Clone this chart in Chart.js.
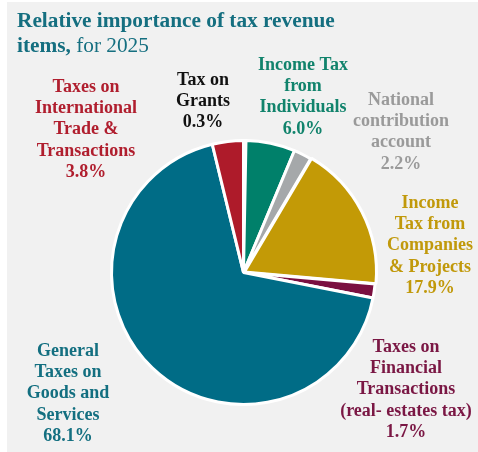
<!DOCTYPE html>
<html>
<head>
<meta charset="utf-8">
<script src="https://cdn.jsdelivr.net/npm/chart.js@4"></script>
<style>
  html, body { margin: 0; padding: 0; background: #ffffff; }
  #wrap { position: relative; width: 478px; height: 452px; }
  #warm { position: absolute; left: -999px; top: 0; font-family: "Liberation Serif"; }
</style>
</head>
<body>
<div id="wrap"><canvas id="myChart" width="478" height="452"></canvas></div>
<div id="warm"><b>Tax</b> for</div>
<script>
// data, clockwise from 12 o'clock
const categories = [
  ["Tax on", "Grants"],
  ["Income Tax", "from", "Individuals"],
  ["National", "contribution", "account"],
  ["Income", "Tax from", "Companies", "& Projects"],
  ["Taxes on", "Financial", "Transactions", "(real- estates tax)"],
  ["General", "Taxes on", "Goods and", "Services"],
  ["Taxes on", "International", "Trade &", "Transactions"]
];
const shares = [0.3, 6.0, 2.2, 17.9, 1.7, 68.1, 3.8];

const sliceColors = ["#000000", "#00806A", "#A5A8AA", "#C39A06", "#7A0F40", "#006C86", "#AE1B2A"];
const labelColors = ["#111111", "#11836C", "#9A9A9A", "#C1990B", "#7A1744", "#136F80", "#B01E2E"];
// label centre x and first line y (page px)
const labelPos = [[203, 80], [303, 65], [401, 100], [430, 203], [406, 347], [68, 351], [86, 87]];

const serif = '"Liberation Serif", "DejaVu Serif", serif';

const panelAndText = {
  id: "panelAndText",
  beforeDraw(chart) {
    const ctx = chart.ctx;
    ctx.save();
    ctx.fillStyle = "#F1F1F1";
    ctx.fillRect(7, 2, 471, 450);
    ctx.restore();
  },
  afterDraw(chart) {
    const ctx = chart.ctx;
    ctx.save();
    // title
    ctx.fillStyle = "#156F80";
    ctx.textBaseline = "alphabetic";
    ctx.textAlign = "left";
    ctx.font = "bold 21.3px " + serif;
    ctx.fillText("Relative importance of tax revenue", 17, 27);
    ctx.fillText("items,", 17, 52);
    const w = ctx.measureText("items,").width;
    ctx.font = "21.3px " + serif;
    ctx.fillText(" for 2025", 17 + w, 52);

    // slice labels
    ctx.font = "bold 18px " + serif;
    ctx.textAlign = "center";
    ctx.textBaseline = "middle";
    categories.forEach((lines, i) => {
      const all = lines.concat([shares[i].toFixed(1) + "%"]);
      ctx.fillStyle = labelColors[i];
      all.forEach((t, k) => {
        ctx.fillText(t, labelPos[i][0], labelPos[i][1] + k * 21.4);
      });
    });
    ctx.restore();
  }
};

function draw() {
  new Chart(document.getElementById("myChart"), {
    type: "pie",
    data: {
      labels: categories.map(c => c.join(" ")),
      datasets: [{
        data: shares,
        backgroundColor: sliceColors,
        borderColor: "#ffffff",
        borderWidth: 3,
        offset: [0, 0, 0, 4, 0, 0, 0]
      }]
    },
    options: {
      responsive: false,
      animation: false,
      layout: { padding: { left: 108, right: 99, top: 137, bottom: 44 } },
      plugins: {
        legend: { display: false },
        tooltip: { enabled: false }
      }
    },
    plugins: [panelAndText]
  });
}

Promise.all([
  document.fonts.load('bold 18px "Liberation Serif"'),
  document.fonts.load('21px "Liberation Serif"')
]).then(draw, draw);
</script>
</body>
</html>
